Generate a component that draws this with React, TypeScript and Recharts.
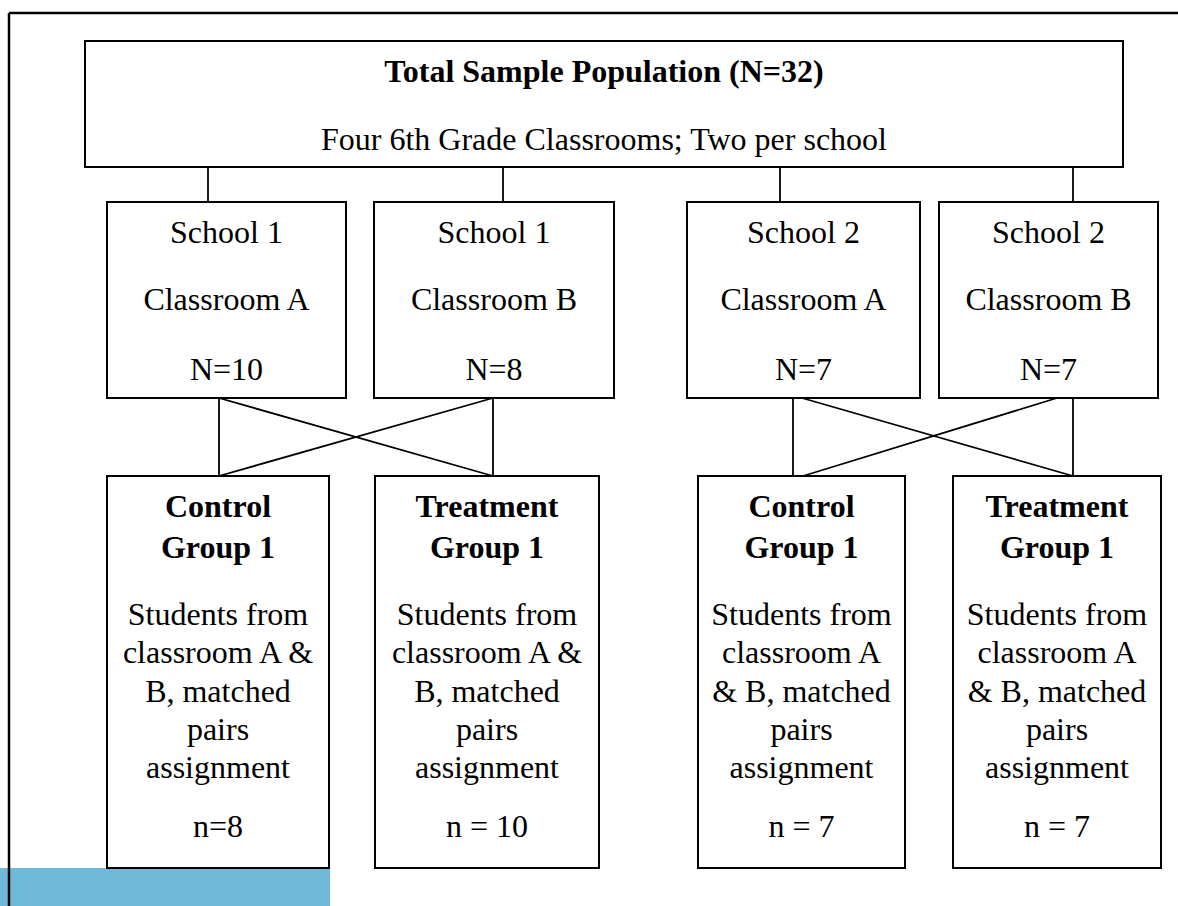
import { ScatterChart, Scatter, XAxis, YAxis, ReferenceArea, ReferenceLine } from 'recharts';

// Diagram drawn on a pixel-like coordinate grid (x: 0..1178, y: 0..906, y grows downwards)
const W = 1178;
const H = 906;
const FONT = '"Liberation Serif", "Times New Roman", serif';

// Top box
const topBox = { x1: 85, x2: 1123, y1: 41, y2: 167 };

// Classroom boxes (row 1)
const classroomBoxes = [
  { x1: 107, x2: 346, y1: 202, y2: 398 },
  { x1: 374, x2: 614, y1: 202, y2: 398 },
  { x1: 687, x2: 920, y1: 202, y2: 398 },
  { x1: 939, x2: 1158, y1: 202, y2: 398 },
];

// Group boxes (row 2)
const groupBoxes = [
  { x1: 107, x2: 329, y1: 476, y2: 868 },
  { x1: 375, x2: 599, y1: 476, y2: 868 },
  { x1: 698, x2: 905, y1: 476, y2: 868 },
  { x1: 953, x2: 1161, y1: 476, y2: 868 },
];

// Connectors: top box -> classrooms
const topConnectors = [208, 503, 780, 1073];

// Connectors: classrooms -> groups (crossed)
const crossLinks = [
  [219, 398, 219, 476],
  [493, 398, 493, 476],
  [219, 398, 493, 476],
  [493, 398, 219, 476],
  [793, 398, 793, 476],
  [1073, 398, 1073, 476],
  [802, 398, 1073, 476],
  [1057, 398, 803, 476],
];

const classroomCenters = [226.5, 494, 803.5, 1048.5];
const classroomSchools = ['School 1', 'School 1', 'School 2', 'School 2'];
const classroomNames = ['Classroom A', 'Classroom B', 'Classroom A', 'Classroom B'];
const classroomCounts = ['N=10', 'N=8', 'N=7', 'N=7'];
const classroomLineY = [243, 310, 380];

const groupCenters = [218, 487, 801.5, 1057];
const groupTitles = ['Control', 'Treatment', 'Control', 'Treatment'];
const groupBody = [
  ['Students from', 'classroom A &', 'B, matched', 'pairs', 'assignment'],
  ['Students from', 'classroom A &', 'B, matched', 'pairs', 'assignment'],
  ['Students from', 'classroom A', '& B, matched', 'pairs', 'assignment'],
  ['Students from', 'classroom A', '& B, matched', 'pairs', 'assignment'],
];
const groupCounts = ['n=8', 'n = 10', 'n = 7', 'n = 7'];
const groupTitleY = [517, 558];
const groupBodyY = [625, 663, 702, 740, 778];
const groupCountY = 837;

type Label = { x: number; y: number; text: string; bold?: boolean };

const labels: Label[] = [
  { x: 604, y: 82, text: 'Total Sample Population (N=32)', bold: true },
  { x: 604, y: 150, text: 'Four 6th Grade Classrooms; Two per school' },
];
classroomCenters.forEach((cx, i) => {
  labels.push({ x: cx, y: classroomLineY[0], text: classroomSchools[i] });
  labels.push({ x: cx, y: classroomLineY[1], text: classroomNames[i] });
  labels.push({ x: cx, y: classroomLineY[2], text: classroomCounts[i] });
});
groupCenters.forEach((cx, i) => {
  labels.push({ x: cx, y: groupTitleY[0], text: groupTitles[i], bold: true });
  labels.push({ x: cx, y: groupTitleY[1], text: 'Group 1', bold: true });
  groupBody[i].forEach((t, j) => labels.push({ x: cx, y: groupBodyY[j], text: t }));
  labels.push({ x: cx, y: groupCountY, text: groupCounts[i] });
});

const TextShape = (props: any) => {
  const { cx, cy, payload } = props;
  return (
    <text
      x={cx}
      y={cy}
      textAnchor="middle"
      fontFamily={FONT}
      fontSize={32}
      fontWeight={payload.bold ? 'bold' : 'normal'}
      fill="#000"
    >
      {payload.text}
    </text>
  );
};

export default function App() {
  const boxStyle = { fill: '#fff', fillOpacity: 1, stroke: '#000', strokeWidth: 2 };
  return (
    <div style={{ position: 'absolute', left: 0, top: 0, width: W, height: H, background: '#fff' }}>
      <ScatterChart width={W} height={H} margin={{ top: 0, right: 0, bottom: 0, left: 0 }}>
        <XAxis type="number" dataKey="x" domain={[0, W]} hide allowDataOverflow />
        <YAxis type="number" dataKey="y" domain={[0, H]} reversed hide allowDataOverflow />

        {/* blue strip at the bottom left */}
        <ReferenceArea x1={0} x2={330} y1={868} y2={H} fill="#6fbad9" fillOpacity={1} stroke="none" />

        {/* page frame */}
        <ReferenceLine segment={[{ x: 9, y: 13 }, { x: W, y: 13 }]} stroke="#000" strokeWidth={2.5} />
        <ReferenceLine segment={[{ x: 9, y: 13 }, { x: 9, y: H }]} stroke="#000" strokeWidth={2.5} />

        {/* connectors */}
        {topConnectors.map((x, i) => (
          <ReferenceLine key={`tc-${i}`} segment={[{ x, y: topBox.y2 }, { x, y: classroomBoxes[0].y1 }]} stroke="#000" strokeWidth={1.8} />
        ))}
        {crossLinks.map(([xa, ya, xb, yb], i) => (
          <ReferenceLine key={`cl-${i}`} segment={[{ x: xa, y: ya }, { x: xb, y: yb }]} stroke="#000" strokeWidth={1.8} />
        ))}

        {/* boxes */}
        <ReferenceArea {...topBox} {...boxStyle} />
        {classroomBoxes.map((b, i) => (
          <ReferenceArea key={`cb-${i}`} {...b} {...boxStyle} />
        ))}
        {groupBoxes.map((b, i) => (
          <ReferenceArea key={`gb-${i}`} {...b} {...boxStyle} />
        ))}

        <Scatter data={labels} shape={TextShape} isAnimationActive={false} />
      </ScatterChart>
    </div>
  );
}
